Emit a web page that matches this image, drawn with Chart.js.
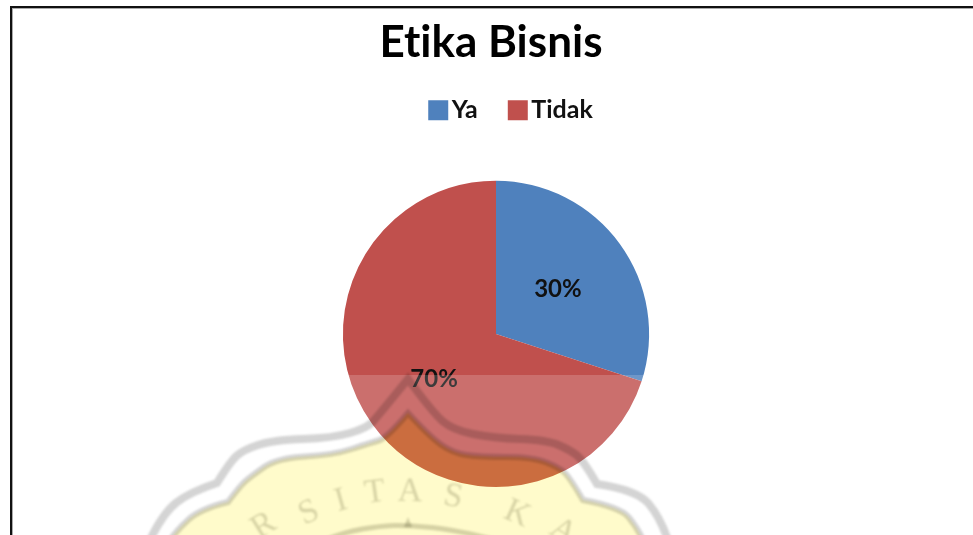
<!DOCTYPE html>
<html>
<head>
<meta charset="utf-8">
<title>Etika Bisnis</title>
<script src="https://cdn.jsdelivr.net/npm/chart.js@4"></script>
<style>
  html, body { margin: 0; padding: 0; background: #fff; overflow: hidden; }
  #wrap { position: relative; width: 973px; height: 535px; }
  #chart-pie { position: absolute; left: 0; top: 0; }
  #frame { position: absolute; left: 10px; top: 6px; right: -4px; bottom: -4px;
           border: 2px solid #111; box-shadow: inset 1px 1px 0 #aaa; }
</style>
</head>
<body>
<div id="wrap">
  <canvas id="chart-pie" width="973" height="535"></canvas>
  <div id="frame"></div>
</div>
<script>
  // chart data
  const categories = ['Ya', 'Tidak'];
  const percentages = [30, 70];
  const sliceColors = ['#4F81BD', '#C0504D'];

  const FONT = 'Lato, "Open Sans", sans-serif';

  // seal letters along the arc: [char, x, y, rotation in degrees]
  const SEAL_LETTERS = [
    ['R', 264, 526, -32], ['S', 309, 513, -24], ['I', 341, 501, -16], ['T', 375, 493, -8],
    ['A', 410, 492, 1], ['S', 453, 497, 10], ['K', 517, 514, 24], ['A', 563, 532, 32],
  ];

  // seal outlines, one sub-list per run between sharp corners
  const OUTER_LINE = [
    [[150,540],[163,513],[190,492],[217,483]],
    [[217,483],[230,462],[243,450],[273,440],[333,438],[367,428],[378,416],[408,379]],
    [[408,379],[433,413],[453,430],[493,438],[547,440],[570,450],[583,460],[597,484]],
    [[597,484],[637,490],[660,517],[668,540]],
  ];
  const INNER_LINE = [
    [[170,540],[177,530],[200,509],[228,502]],
    [[228,502],[240,486],[250,477],[277,458],[333,455],[370,443],[387,438],[408,413]],
    [[408,413],[430,437],[453,453],[480,457],[533,457],[560,468],[570,478],[583,500]],
    [[583,500],[620,507],[637,527],[643,540]],
  ];
  const BOTTOM_ARC = [[[325,540],[345,532],[380,526],[407,525],[457,530],[495,540]]];

  function tracePath(ctx, runs) {
    runs.forEach(function (pts, r) {
      if (r === 0) ctx.moveTo(pts[0][0], pts[0][1]);
      for (let i = 1; i < pts.length - 1; i++) {
        const mx = i === pts.length - 2 ? pts[i + 1][0] : (pts[i][0] + pts[i + 1][0]) / 2;
        const my = i === pts.length - 2 ? pts[i + 1][1] : (pts[i][1] + pts[i + 1][1]) / 2;
        ctx.quadraticCurveTo(pts[i][0], pts[i][1], mx, my);
      }
    });
  }

  // percent text at the middle of each slice
  const sliceLabels = {
    id: 'sliceLabels',
    beforeDraw(chart) {
      // keeps "ti" as two glyphs in Lato
      chart.ctx.textRendering = 'optimizeSpeed';
    },
    afterDatasetsDraw(chart) {
      const ctx = chart.ctx;
      ctx.save();
      ctx.font = 'bold 24px ' + FONT;
      ctx.fillStyle = '#111';
      ctx.textAlign = 'center';
      ctx.textBaseline = 'middle';
      chart.getDatasetMeta(0).data.forEach(function (arc, i) {
        const p = arc.tooltipPosition();
        ctx.fillText(percentages[i] + '%', p.x, p.y);
      });
      ctx.restore();
    },
  };

  // university seal printed over the lower part of the page
  const sealOverlay = {
    id: 'sealOverlay',
    afterDraw(chart) {
      const ctx = chart.ctx;
      ctx.save();

      ctx.fillStyle = 'rgba(255,255,255,0.18)';
      ctx.fillRect(0, 375, 973, 160);

      ctx.globalCompositeOperation = 'multiply';
      ctx.filter = 'blur(0.8px)';

      ctx.beginPath();
      tracePath(ctx, INNER_LINE);
      ctx.closePath();
      ctx.fillStyle = '#FFFBCB';
      ctx.fill();

      // the yellow prints deeper where it crosses the pie
      const arc = chart.getDatasetMeta(0).data[0];
      ctx.save();
      ctx.beginPath();
      ctx.arc(arc.x, arc.y, arc.outerRadius, 0, Math.PI * 2);
      ctx.clip();
      ctx.beginPath();
      tracePath(ctx, INNER_LINE);
      ctx.closePath();
      ctx.fillStyle = '#FFFFB8';
      ctx.fill();
      ctx.restore();

      ctx.strokeStyle = '#D4D4D4';
      ctx.lineJoin = 'miter';
      ctx.lineWidth = 8;
      ctx.beginPath();
      tracePath(ctx, OUTER_LINE);
      ctx.stroke();
      ctx.lineWidth = 6;
      ctx.beginPath();
      tracePath(ctx, INNER_LINE);
      ctx.stroke();
      ctx.lineWidth = 5;
      ctx.strokeStyle = '#D6D6CE';
      ctx.beginPath();
      tracePath(ctx, BOTTOM_ARC);
      ctx.stroke();
      ctx.beginPath();
      ctx.moveTo(404, 527);
      ctx.lineTo(408, 517);
      ctx.lineTo(412, 527);
      ctx.closePath();
      ctx.fillStyle = '#D6D6CE';
      ctx.fill();

      ctx.filter = 'blur(1px)';
      ctx.font = '34px "Liberation Serif", serif';
      ctx.fillStyle = '#D8D8D0';
      ctx.textAlign = 'center';
      ctx.textBaseline = 'middle';
      SEAL_LETTERS.forEach(function (l) {
        ctx.save();
        ctx.translate(l[1], l[2]);
        ctx.rotate(l[3] * Math.PI / 180);
        ctx.fillText(l[0], 0, 0);
        ctx.restore();
      });
      ctx.restore();
    },
  };

  // legend reserves room down to the pie, title and legend sit off the pie's centre line
  const headerLayout = {
    id: 'headerLayout',
    beforeInit(chart) {
      const fit = chart.legend.fit;
      chart.legend.fit = function () {
        fit.call(this);
        this.height = 112;
      };
    },
    afterLayout(chart) {
      chart.titleBlock.left -= 5;
      chart.titleBlock.right -= 5;
      chart.legend.left += 19;
      chart.legend.right += 19;
      chart.legend.top -= 10;
      chart.legend.bottom -= 10;
    },
  };

  new Chart(document.getElementById('chart-pie').getContext('2d'), {
    type: 'pie',
    data: {
      labels: categories,
      datasets: [{
        data: percentages,
        backgroundColor: sliceColors,
        borderWidth: 0,
      }],
    },
    options: {
      responsive: false,
      animation: false,
      layout: { padding: { left: 19, right: 0, top: 16, bottom: 48 } },
      plugins: {
        title: {
          display: true,
          text: 'Etika Bisnis',
          color: '#000',
          font: { family: FONT, size: 44, weight: 'bold' },
          padding: 0,
        },
        legend: {
          display: true,
          position: 'top',
          labels: {
            color: '#111',
            font: { family: FONT, size: 25, weight: 'bold' },
            usePointStyle: true,
            pointStyle: 'rect',
            boxWidth: 2,
            boxHeight: 20,
            padding: 39,
          },
        },
        tooltip: { enabled: false },
      },
    },
    plugins: [sliceLabels, sealOverlay, headerLayout],
  });
</script>
</body>
</html>
